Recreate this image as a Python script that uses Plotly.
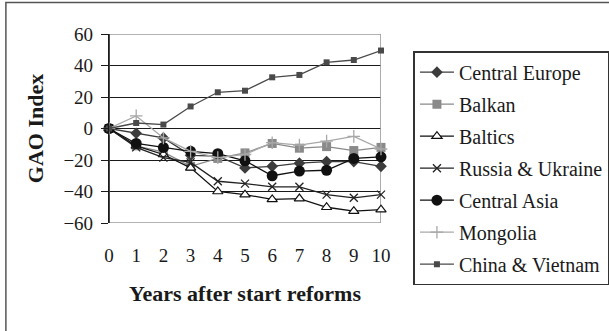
import plotly.graph_objects as go

years = [0, 1, 2, 3, 4, 5, 6, 7, 8, 9, 10]
central_europe = [0, -3, -6, -17, -17.5, -25, -24, -22, -21, -21, -24]
balkan = [0, -11, -15, -24, -19, -15.5, -9.5, -12.5, -11.5, -14, -12]
baltics = [0, -11, -16.5, -25, -40, -42, -45, -44.5, -50, -52.5, -51.5]
russia_ukraine = [0, -12, -18.5, -21.5, -33.5, -35, -37, -37, -42, -44, -42]
central_asia = [0, -9.5, -12, -14.5, -16, -20.5, -30, -27, -26.5, -19, -18]
mongolia = [0, 8, -6, -14.5, -18.5, -16.5, -9, -10.5, -8, -5, -13]
china_vietnam = [0, 3.5, 2.5, 14, 23, 24, 32.5, 34, 42, 43.5, 49.5]
y_ticks = [-60, -40, -20, 0, 20, 40, 60]

FONT = "Liberation Serif, Times New Roman, DejaVu Serif, serif"

series = [
    ("Central Europe", central_europe, "#3c3c3c", dict(symbol="diamond", size=9, color="#3c3c3c")),
    ("Balkan", balkan, "#8a8a8a", dict(symbol="square", size=9, color="#8a8a8a")),
    ("Baltics", baltics, "#111111", dict(symbol="triangle-up", size=9, color="white", line=dict(color="#111111", width=1.2))),
    ("Russia & Ukraine", russia_ukraine, "#222222", dict(symbol="x-thin", size=8, color="#222222", line=dict(color="#222222", width=1.3))),
    ("Central Asia", central_asia, "#111111", dict(symbol="circle", size=11, color="#111111")),
    ("Mongolia", mongolia, "#a8a8a8", dict(symbol="cross-thin", size=9, color="#a8a8a8", line=dict(color="#a8a8a8", width=1.3))),
    ("China & Vietnam", china_vietnam, "#4a4a4a", dict(symbol="square", size=6, color="#4a4a4a")),
]

fig = go.Figure()
for i, (name, vals, col, mk) in enumerate(series):
    fig.add_trace(go.Scatter(
        x=years, y=vals, name=name, mode="lines+markers",
        line=dict(color=col, width=1.3), marker=mk,
        legendgroup=f"g{i}", cliponaxis=False,
    ))

W, H = 609, 331
L, R, T, B = 109, 227.5, 34.3, 107.7
pw = W - L - R
ph = H - T - B

fig.update_layout(
    width=W, height=H,
    margin=dict(l=L, r=R, t=T, b=B, autoexpand=False),
    paper_bgcolor="white", plot_bgcolor="white",
    font=dict(family=FONT, color="#1a1a1a", size=19),
    showlegend=True,
    legend=dict(
        x=(414 - L) / pw, y=(H - B - 51.5) / ph, xanchor="left", yanchor="top",
        bordercolor="#333333", borderwidth=1.5, bgcolor="white",
        font=dict(family=FONT, size=20, color="#1a1a1a"),
        tracegroupgap=3, itemwidth=34, traceorder="grouped",
        maxheight=320,
    ),
    xaxis=dict(
        range=[0, 10], tickvals=years, showgrid=False, zeroline=False,
        showline=False, ticks="", ticklabelstandoff=19,
        tickfont=dict(family=FONT, size=19),
        title=dict(text="<b>Years after start reforms</b>", standoff=20,
                   font=dict(family=FONT, size=22)),
        fixedrange=True,
    ),
    yaxis=dict(
        range=[-60, 60], tickvals=y_ticks, showgrid=True, gridcolor="#1a1a1a",
        gridwidth=1, zeroline=False, showline=True, linecolor="#1a1a1a",
        linewidth=1.2, ticks="outside", ticklen=7, tickcolor="#1a1a1a",
        ticklabelstandoff=4,
        tickfont=dict(family=FONT, size=19),
        title=dict(text="<b>GAO Index</b>", standoff=13,
                   font=dict(family=FONT, size=22)),
        fixedrange=True,
    ),
    shapes=[
        dict(type="rect", xref="x", yref="y", x0=0, x1=10, y0=-60, y1=60,
             line=dict(color="#9a9a9a", width=1.6), layer="between"),
        dict(type="line", xref="x", yref="y", x0=0, x1=0, y0=-60, y1=60,
             line=dict(color="#1a1a1a", width=1.4), layer="between"),
        dict(type="rect", xref="paper", yref="paper",
             x0=(5.7 - L) / pw, x1=(W + 5 - L) / pw,
             y0=(H - B - (H + 5)) / ph, y1=(H - B - 2.7) / ph,
             line=dict(color="#555555", width=1.5), layer="below"),
    ],
)

fig.write_html("out.html", config={"displayModeBar": False},
               post_script="document.body.style.margin='0';")
